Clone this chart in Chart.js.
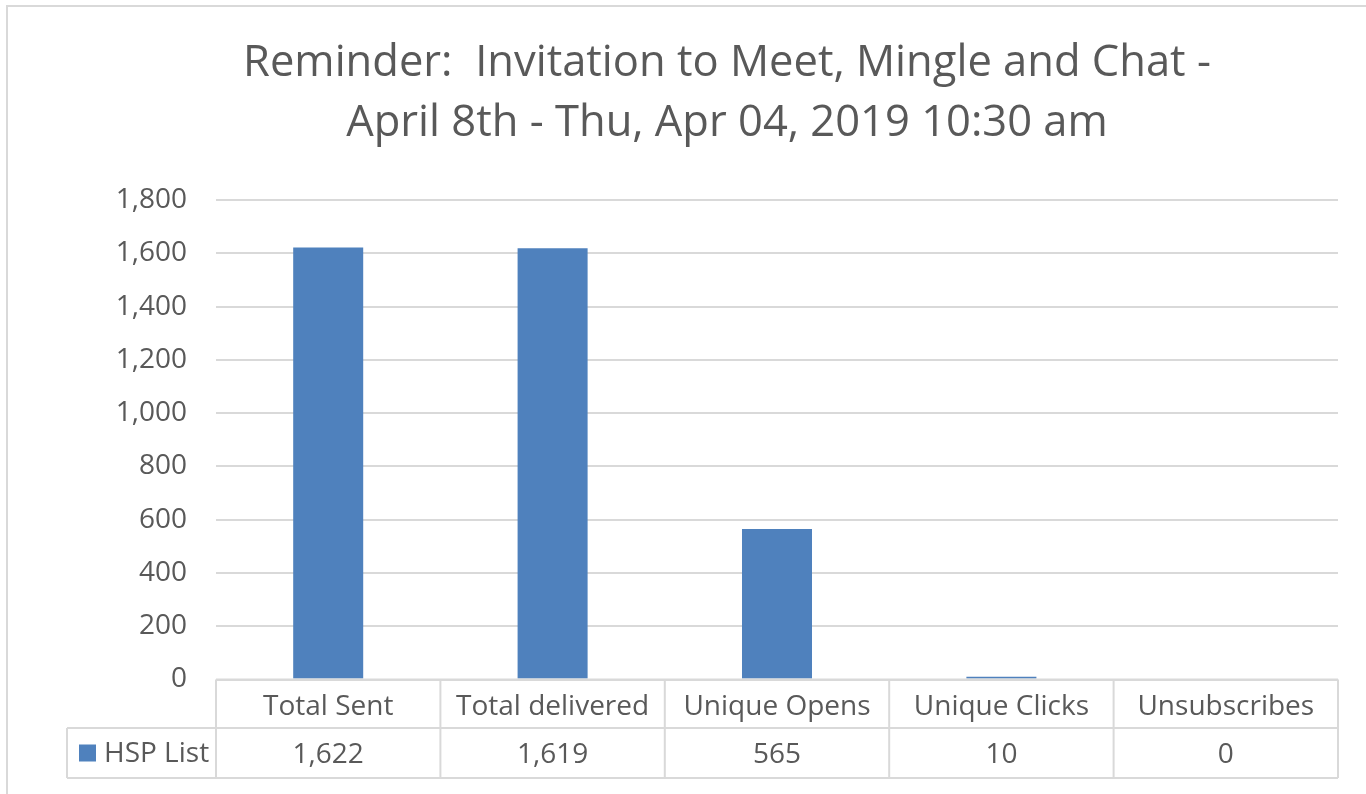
<!DOCTYPE html>
<html>
  <head>
    <meta charset="UTF-8">
    <title>Campaign report</title>
    <script src="https://cdn.jsdelivr.net/npm/chart.js"></script>
    <style>
      html, body { margin: 0; padding: 0; background: #fff; }
      #wrap { width: 1366px; height: 794px; }
    </style>
  </head>
  <body>
    <div id="wrap">
      <canvas id="campaignChart" width="1366" height="794"></canvas>
    </div>

    <script>
      // Email stats for the campaign
      const categories = ['Total Sent', 'Total delivered', 'Unique Opens', 'Unique Clicks', 'Unsubscribes'];
      const hspList = [1622, 1619, 565, 10, 0];
      const seriesName = 'HSP List';
      const titleLines = ['Reminder:  Invitation to Meet, Mingle and Chat -', 'April 8th - Thu, Apr 04, 2019 10:30 am'];

      const FONT = "'Open Sans', sans-serif";
      const TEXT = '#595959';
      const LINE = '#d9d9d9';
      const BAR = '#4f81bd';

      const fmt = v => v.toLocaleString('en-US');

      // outer frame of the chart
      const framePlugin = {
        id: 'frame',
        beforeDraw(chart) {
          const ctx = chart.ctx;
          ctx.save();
          ctx.strokeStyle = LINE;
          ctx.lineWidth = 2;
          ctx.beginPath();
          ctx.moveTo(7, 800);
          ctx.lineTo(7, 6);
          ctx.lineTo(1370, 6);
          ctx.stroke();
          ctx.restore();
        }
      };

      // data table under the plot, columns follow the category scale
      const tablePlugin = {
        id: 'dataTable',
        afterDraw(chart) {
          const ctx = chart.ctx;
          const x = chart.scales.x;
          const area = chart.chartArea;
          const n = categories.length;
          const colW = (area.right - area.left) / n;
          const top = area.bottom;
          const mid = top + 48.5;
          const bot = mid + 50;
          const legendLeft = 67;

          ctx.save();
          ctx.strokeStyle = LINE;
          ctx.lineWidth = 2;
          ctx.beginPath();
          ctx.moveTo(area.left, top); ctx.lineTo(area.right, top);
          ctx.moveTo(legendLeft, mid); ctx.lineTo(area.right, mid);
          ctx.moveTo(legendLeft, bot); ctx.lineTo(area.right, bot);
          ctx.moveTo(legendLeft, mid); ctx.lineTo(legendLeft, bot);
          for (let i = 0; i <= n; i++) {
            const cx = area.left + colW * i;
            ctx.moveTo(cx, top); ctx.lineTo(cx, bot);
          }
          ctx.stroke();

          ctx.fillStyle = TEXT;
          ctx.font = '28px ' + FONT;
          ctx.textAlign = 'center';
          ctx.textBaseline = 'middle';
          categories.forEach((c, i) => {
            const cx = x.getPixelForValue(i);
            ctx.fillText(c, cx, (top + mid) / 2 + 3);
            ctx.fillText(fmt(hspList[i]), cx, (mid + bot) / 2 + 2);
          });

          // legend key
          ctx.fillStyle = BAR;
          ctx.fillRect(79, (mid + bot) / 2 - 8.5, 17, 17);
          ctx.fillStyle = TEXT;
          ctx.textAlign = 'left';
          ctx.fillText(seriesName, 104, (mid + bot) / 2 + 1);
          ctx.restore();
        }
      };

      new Chart(document.getElementById('campaignChart'), {
        type: 'bar',
        data: {
          labels: categories,
          datasets: [{
            label: seriesName,
            data: hspList,
            backgroundColor: BAR,
            borderWidth: 0,
            barPercentage: 0.312,
            categoryPercentage: 1
          }]
        },
        options: {
          responsive: false,
          animation: false,
          layout: { padding: { left: 116, right: 28, top: 0, bottom: 114.5 } },
          plugins: {
            legend: { display: false },
            tooltip: { enabled: false },
            title: {
              display: true,
              text: titleLines,
              color: TEXT,
              font: { family: FONT, size: 43.5, weight: 'normal', lineHeight: 1.379 },
              padding: { top: 34, bottom: 46 }
            }
          },
          scales: {
            x: {
              display: false
            },
            y: {
              min: 0,
              max: 1800,
              ticks: {
                stepSize: 200,
                padding: 29,
                color: TEXT,
                font: { family: FONT, size: 28 },
                callback: v => fmt(v)
              },
              grid: { color: LINE, lineWidth: 2, drawTicks: false },
              border: { display: false },
              afterFit(scale) { scale.width = 100; }
            }
          }
        },
        plugins: [framePlugin, tablePlugin]
      });
    </script>
  </body>
</html>
